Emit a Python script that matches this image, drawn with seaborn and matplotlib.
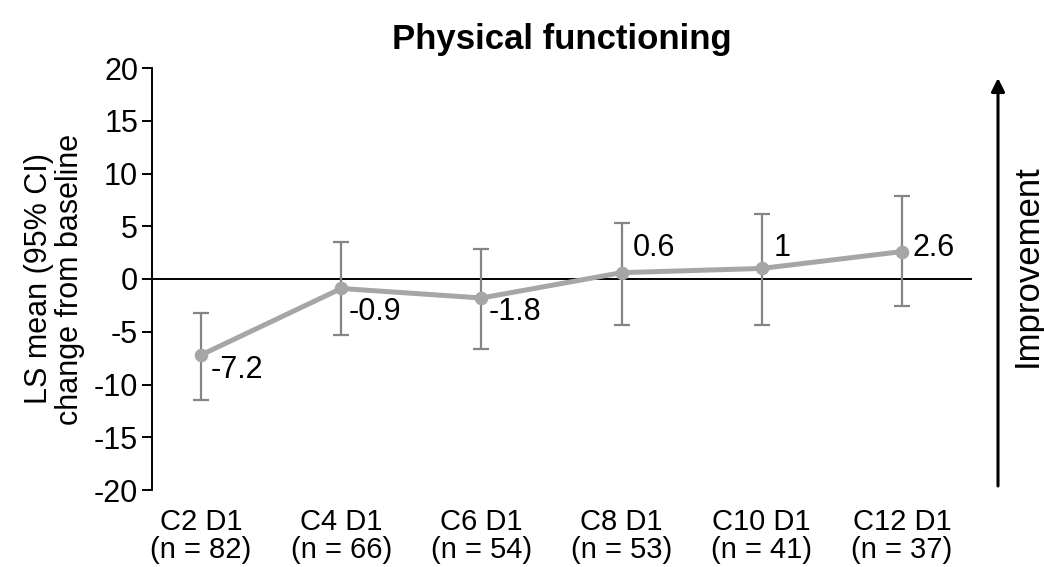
import numpy as np
import pandas as pd
import matplotlib
matplotlib.use("Agg")
import matplotlib.pyplot as plt
import seaborn as sns

# ---- data ----
visits = ["C2 D1", "C4 D1", "C6 D1", "C8 D1", "C10 D1", "C12 D1"]
n_patients = [82, 66, 54, 53, 41, 37]
ls_mean = [-7.2, -0.9, -1.8, 0.6, 1.0, 2.6]
ci_low = [-11.5, -5.3, -6.6, -4.4, -4.4, -2.6]
ci_high = [-3.2, 3.5, 2.8, 5.3, 6.2, 7.9]
value_labels = ["-7.2", "-0.9", "-1.8", "0.6", "1", "2.6"]
y_ticks = [20, 15, 10, 5, 0, -5, -10, -15, -20]

sns.set_theme(style="white")
plt.rcParams["font.family"] = ["Liberation Sans", "DejaVu Sans"]
plt.rcParams["text.color"] = "black"
plt.rcParams["axes.labelcolor"] = "black"
plt.rcParams["xtick.color"] = "black"
plt.rcParams["ytick.color"] = "black"

df = pd.DataFrame({"pos": np.arange(len(visits)), "mean": ls_mean,
                   "lo": ci_low, "hi": ci_high})

fig = plt.figure(figsize=(10.44, 5.67), dpi=100)
ax = fig.add_axes([152 / 1044, 77 / 567, 820 / 1044, 422 / 567])

# error bars
ax.errorbar(df["pos"], df["mean"],
            yerr=[df["mean"] - df["lo"], df["hi"] - df["mean"]],
            fmt="none", ecolor="#858585", elinewidth=1.6, capsize=6,
            capthick=1.6, zorder=2)

sns.lineplot(data=df, x="pos", y="mean", ax=ax, color="#a6a6a6",
             linewidth=3.6, marker="o", markersize=9,
             markeredgecolor="#a6a6a6", zorder=3)

ax.axhline(0, color="black", linewidth=1.4, zorder=1)

# value labels
offsets = [(10, -15), (7, -24), (7, -14), (11, 25), (12, 20), (11, 4)]
for x, y, lab, off in zip(df["pos"], df["mean"], value_labels, offsets):
    ax.annotate(lab, (x, y), xytext=off, textcoords="offset pixels",
                ha="left", va="center", fontsize=22, color="black")

ax.set_xlim(-0.35, 5.5)
ax.set_ylim(-20, 20)
ax.set_yticks(y_ticks)
ax.set_yticklabels([str(t) for t in y_ticks], fontsize=22)
ax.set_xticks(df["pos"])
ax.set_xticklabels([f"{v}\n(n = {n})" for v, n in zip(visits, n_patients)],
                   fontsize=21, linespacing=1.0)
ax.tick_params(axis="y", direction="out", length=7, width=1.4,
               color="black", left=True, pad=3)
ax.tick_params(axis="x", length=0, pad=13)

for s in ["top", "right", "bottom"]:
    ax.spines[s].set_visible(False)
ax.spines["left"].set_color("black")
ax.spines["left"].set_linewidth(1.4)

ax.set_xlabel("")
ax.set_ylabel("LS mean (95% CI)\nchange from baseline", fontsize=22,
              linespacing=1.05, labelpad=6)
ax.set_title("Physical functioning", fontsize=25, fontweight="bold", pad=14)

# improvement arrow
ax.annotate("", xy=(998 / 1044, 1 - 78 / 567), xytext=(998 / 1044, 1 - 486 / 567),
            xycoords="figure fraction", textcoords="figure fraction",
            arrowprops=dict(arrowstyle="-|>", color="black", lw=2.2,
                            mutation_scale=20, shrinkA=0, shrinkB=0))
fig.text(1027 / 1044, 1 - 266 / 567, "Improvement", rotation=90,
         ha="center", va="center", fontsize=25)

fig.savefig("out.png", dpi=100)
